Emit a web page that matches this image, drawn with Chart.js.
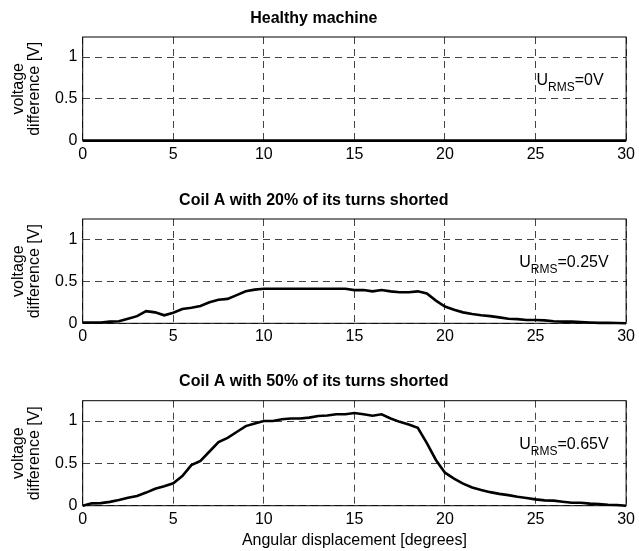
<!DOCTYPE html>
<html>
<head>
<meta charset="utf-8">
<script src="https://cdn.jsdelivr.net/npm/chart.js@4"></script>
<style>
  html, body { margin: 0; padding: 0; background: #fff; }
  canvas { display: block; }
</style>
</head>
<body>
<canvas id="c1" width="639" height="180"></canvas>
<canvas id="c2" width="639" height="180"></canvas>
<canvas id="c3" width="639" height="191"></canvas>
<script>
const fontFamily = '"Liberation Sans", Arial, Helvetica, sans-serif'

// angular displacement [degrees]
const angles = [0, 0.5, 1, 1.5, 2, 2.5, 3, 3.5, 4, 4.5, 5, 5.5, 6, 6.5, 7, 7.5, 8, 8.5, 9, 9.5,
    10, 10.5, 11, 11.5, 12, 12.5, 13, 13.5, 14, 14.5, 15, 15.5, 16, 16.5, 17, 17.5, 18, 18.5, 19, 19.5,
    20, 20.5, 21, 21.5, 22, 22.5, 23, 23.5, 24, 24.5, 25, 25.5, 26, 26.5, 27, 27.5, 28, 28.5, 29, 29.5, 30]

const healthy = [0, 0, 0, 0, 0, 0, 0, 0, 0, 0,
    0, 0, 0, 0, 0, 0, 0, 0, 0, 0,
    0, 0, 0, 0, 0, 0, 0, 0, 0, 0,
    0, 0, 0, 0, 0, 0, 0, 0, 0, 0,
    0, 0, 0, 0, 0, 0, 0, 0, 0, 0,
    0, 0, 0, 0, 0, 0, 0, 0, 0, 0,
    0]

const shorted20 = [0.01, 0.01, 0.01, 0.02, 0.025, 0.055, 0.085, 0.145, 0.13, 0.095,
    0.125, 0.17, 0.185, 0.205, 0.25, 0.28, 0.29, 0.335, 0.38, 0.4,
    0.41, 0.41, 0.41, 0.41, 0.41, 0.41, 0.41, 0.41, 0.41, 0.41,
    0.395, 0.395, 0.38, 0.395, 0.38, 0.37, 0.37, 0.38, 0.355, 0.27,
    0.2, 0.16, 0.13, 0.11, 0.095, 0.085, 0.07, 0.055, 0.05, 0.04,
    0.04, 0.035, 0.025, 0.02, 0.02, 0.015, 0.01, 0.005, 0.005, 0.003,
    0]

const shorted50 = [0, 0.028, 0.03, 0.045, 0.067, 0.095, 0.115, 0.155, 0.2, 0.23,
    0.265, 0.35, 0.48, 0.53, 0.64, 0.75, 0.8, 0.87, 0.94, 0.97,
    1.0, 1.0, 1.02, 1.03, 1.03, 1.04, 1.06, 1.065, 1.08, 1.08,
    1.095, 1.08, 1.063, 1.08, 1.03, 0.99, 0.96, 0.92, 0.74, 0.54,
    0.39, 0.32, 0.26, 0.215, 0.185, 0.16, 0.14, 0.125, 0.105, 0.09,
    0.075, 0.063, 0.06, 0.047, 0.035, 0.035, 0.024, 0.02, 0.012, 0.008,
    0]

const titles = ['Healthy machine', 'Coil A with 20% of its turns shorted', 'Coil A with 50% of its turns shorted']
const rmsValues = ['0V', '0.25V', '0.65V']
const xTicks = [0, 5, 10, 15, 20, 25, 30]
const yTicks = [0, 0.5, 1]
const yLabel = ['voltage', 'difference [V]']
const xLabel = 'Angular displacement [degrees]'

// box around the plot area, like matlab
const framePlugin = {
    id: 'frame',
    afterDraw(chart) {
        const { ctx, chartArea: a } = chart
        ctx.save()
        ctx.strokeStyle = '#000'
        ctx.lineWidth = 1
        ctx.strokeRect(a.left, a.top, a.right - a.left, a.bottom - a.top)
        ctx.restore()
    }
}

// U_RMS=... text with subscript
const rmsPlugin = {
    id: 'rms',
    afterDraw(chart, args, opts) {
        const { ctx, scales } = chart
        let x = scales.x.getPixelForValue(opts.x)
        const y = scales.y.getPixelForValue(opts.y)
        ctx.save()
        ctx.fillStyle = '#000'
        ctx.textBaseline = 'alphabetic'
        ctx.textAlign = 'left'
        ctx.font = '16px ' + fontFamily
        ctx.fillText('U', x, y)
        x += ctx.measureText('U').width
        ctx.font = '12px ' + fontFamily
        ctx.fillText('RMS', x, y + 6)
        x += ctx.measureText('RMS').width
        ctx.font = '16px ' + fontFamily
        ctx.fillText('=' + opts.text, x, y)
        ctx.restore()
    }
}

function makeChart(canvasId, idx, values, lay) {
    const points = angles.map((a, i) => ({ x: a, y: values[i] }))
    const canvasH = document.getElementById(canvasId).height
    return new Chart(document.getElementById(canvasId), {
        type: 'line',
        data: {
            datasets: [{
                data: points,
                borderColor: '#000',
                borderWidth: 2.6,
                pointRadius: 0,
                tension: 0,
                fill: false,
                clip: 4
            }]
        },
        options: {
            responsive: false,
            animation: false,
            events: [],
            layout: { padding: { left: 0, right: 11.4, top: 0, bottom: 0 } },
            plugins: {
                legend: { display: false },
                tooltip: { enabled: false },
                title: {
                    display: true,
                    text: titles[idx],
                    color: '#000',
                    font: { family: fontFamily, size: 16, weight: 'bold', lineHeight: 1.2 },
                    padding: { top: lay.titleTop, bottom: lay.titleBottom }
                },
                rms: { text: rmsValues[idx], x: lay.rmsX, y: 0.67 }
            },
            scales: {
                x: {
                    type: 'linear',
                    min: 0,
                    max: 30,
                    afterBuildTicks(scale) { scale.ticks = xTicks.map(v => ({ value: v })) },
                    afterFit(scale) { scale.height = canvasH - lay.plotBottom },
                    ticks: {
                        color: '#000',
                        padding: 4,
                        maxRotation: 0,
                        callback: v => String(v),
                        font: { family: fontFamily, size: 16 }
                    },
                    grid: { color: '#444', lineWidth: 1, drawTicks: false },
                    border: { display: false, dash: [7, 5] },
                    title: {
                        display: idx === 2,
                        text: xLabel,
                        color: '#000',
                        font: { family: fontFamily, size: 16, lineHeight: 1.0 },
                        padding: { top: 0, bottom: 2 }
                    }
                },
                y: {
                    type: 'linear',
                    min: 0,
                    max: 1.24,
                    afterBuildTicks(scale) { scale.ticks = yTicks.map(v => ({ value: v })) },
                    afterFit(scale) { scale.width = 82.7 },
                    ticks: {
                        color: '#000',
                        padding: 5.4,
                        callback: v => String(v),
                        font: { family: fontFamily, size: 16 }
                    },
                    grid: { color: '#444', lineWidth: 1, drawTicks: false },
                    border: { display: false, dash: [7, 5] },
                    title: {
                        display: true,
                        text: yLabel,
                        color: '#000',
                        font: { family: fontFamily, size: 16, lineHeight: 1.0 },
                        padding: { top: 10.5, bottom: 0 }
                    }
                }
            }
        },
        plugins: [framePlugin, rmsPlugin]
    })
}

makeChart('c1', 0, healthy, { titleTop: 8.7, titleBottom: 9.1, plotBottom: 140.6, rmsX: 25.05 })
makeChart('c2', 1, shorted20, { titleTop: 11.1, titleBottom: 8.7, plotBottom: 143.3, rmsX: 24.1 })
makeChart('c3', 2, shorted50, { titleTop: 12.1, titleBottom: 9.4, plotBottom: 145.7, rmsX: 24.1 })
</script>
</body>
</html>
